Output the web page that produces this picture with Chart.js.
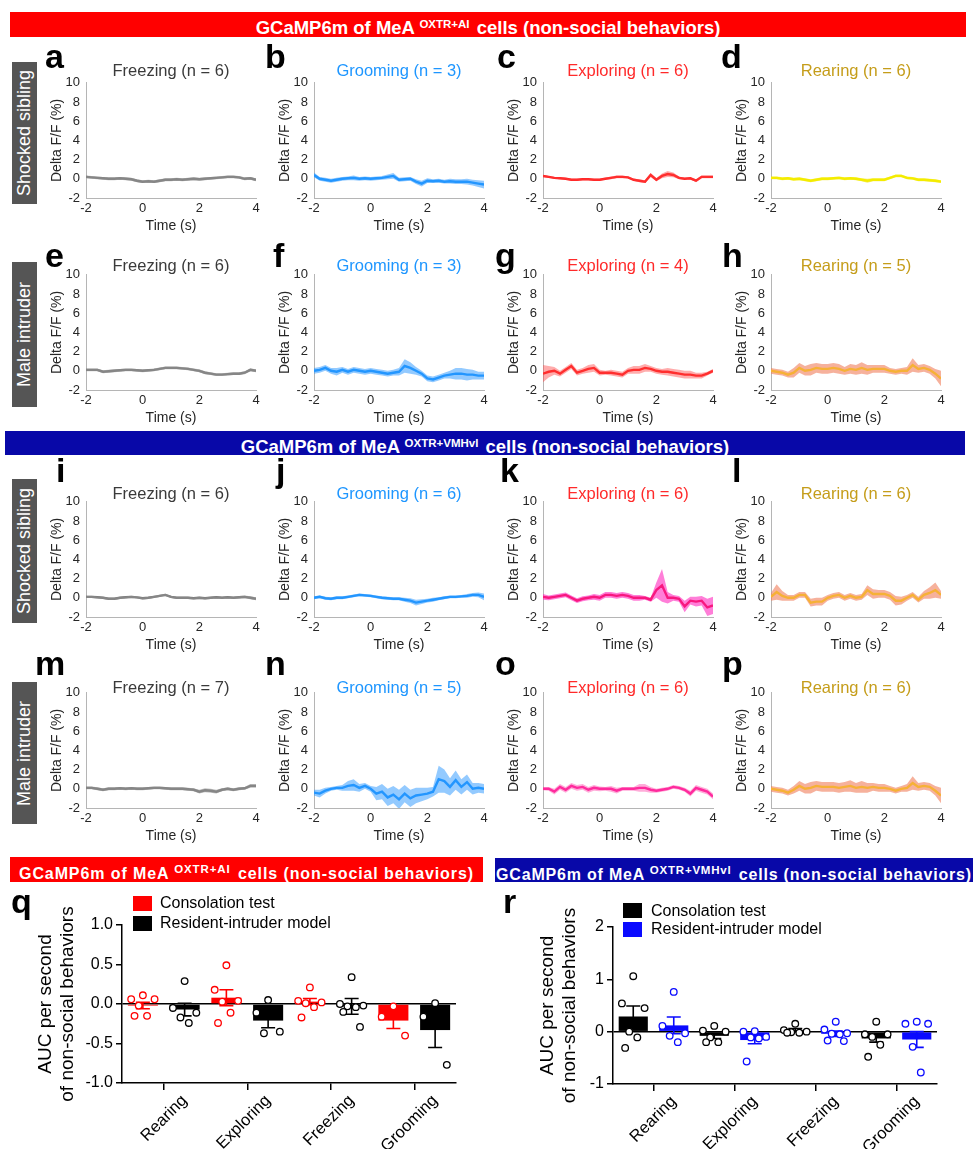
<!DOCTYPE html>
<html>
<head>
<meta charset="utf-8">
<script src="https://cdn.jsdelivr.net/npm/chart.js@4.4.0/dist/chart.umd.min.js"></script>
<style>
body{margin:0;width:973px;height:1149px;position:relative;background:#fff;font-family:"Liberation Sans",Arial,sans-serif;overflow:hidden}
.hdr{position:absolute;color:#fff;font-weight:bold;text-align:center;white-space:nowrap}
.hdr sup{font-size:11.5px;vertical-align:6px;margin-right:2px}
.side{position:absolute;left:12px;width:25px;background:#555;color:#fff;font-size:18px;writing-mode:vertical-rl;transform:rotate(180deg);text-align:center;line-height:25px;white-space:nowrap}
.lett{position:absolute;font-weight:bold;font-size:34px;line-height:34px;color:#000}
.ptitle{position:absolute;width:170px;font-size:16.5px;line-height:20px;text-align:center;white-space:nowrap}
.leg{position:absolute;font-size:16px;line-height:18px;color:#000;white-space:nowrap}
.leg i{position:absolute;left:0;width:19px;height:15px}
canvas{position:absolute}
</style>
</head>
<body>
<script>
// time axis shared by all traces (s)
const timeS = [-2,-1.8,-1.6,-1.4,-1.2,-1,-0.8,-0.6,-0.4,-0.2,0,0.2,0.4,0.6,0.8,1,1.2,1.4,1.6,1.8,2,2.2,2.4,2.6,2.8,3,3.2,3.4,3.6,3.8,4];

// mean traces and s.e.m. (Delta F/F %)
const aMean = [0.2,0.15,0.1,0.05,0,0,0.05,0,-0.05,-0.2,-0.3,-0.25,-0.3,-0.2,-0.1,-0.1,-0.05,-0.1,-0.05,0,-0.05,0,0.05,0.1,0.15,0.2,0.2,0.15,0,0.05,-0.1];
const aErr  = [0.15,0.15,0.15,0.15,0.15,0.15,0.15,0.15,0.15,0.15,0.15,0.15,0.15,0.15,0.15,0.15,0.15,0.15,0.15,0.15,0.15,0.15,0.15,0.15,0.15,0.15,0.15,0.15,0.15,0.15,0.15];
const bMean = [0.4,0,-0.1,-0.2,-0.1,0,0.05,0.1,0,0.05,0,0.05,0.1,0.2,0.3,-0.1,-0.05,0,-0.3,-0.5,-0.2,-0.25,-0.2,-0.3,-0.25,-0.3,-0.3,-0.3,-0.4,-0.5,-0.6];
const bErr  = [0.25,0.2,0.2,0.2,0.2,0.2,0.2,0.25,0.2,0.2,0.2,0.2,0.2,0.25,0.3,0.2,0.2,0.2,0.25,0.3,0.25,0.2,0.2,0.2,0.25,0.25,0.25,0.3,0.3,0.35,0.4];
const cMean = [0.3,0.2,0.1,0.05,0,-0.1,-0.1,-0.05,-0.05,-0.1,-0.1,0,0.1,0.2,0.2,0.15,-0.1,-0.2,-0.3,0.4,-0.1,0.3,0.5,0.4,0.1,0,0.05,-0.2,0.2,0.2,0.2];
const cErr  = [0.1,0.1,0.1,0.1,0.1,0.1,0.1,0.1,0.1,0.1,0.1,0.1,0.15,0.15,0.15,0.1,0.1,0.15,0.15,0.2,0.15,0.25,0.3,0.25,0.15,0.1,0.1,0.15,0.15,0.15,0.15];
const dMean = [0.1,0.1,0,0.05,-0.05,0,-0.1,-0.2,-0.1,0,0,0.05,0.1,0,0.05,0,-0.1,-0.2,-0.1,-0.1,-0.1,0.1,0.3,0.3,0.1,0.05,-0.1,-0.1,-0.15,-0.2,-0.3];
const dErr  = [0.15,0.15,0.15,0.15,0.15,0.15,0.15,0.15,0.15,0.15,0.15,0.15,0.15,0.15,0.15,0.15,0.15,0.2,0.15,0.15,0.15,0.15,0.15,0.15,0.15,0.15,0.15,0.15,0.15,0.15,0.15];
const eMean = [0.1,0.1,0.1,-0.1,-0.05,0,0.05,0.1,0.1,0.05,0,0.05,0.1,0.2,0.3,0.3,0.3,0.25,0.2,0.1,0,-0.2,-0.3,-0.4,-0.4,-0.35,-0.3,-0.3,-0.2,0.1,0];
const eErr  = [0.15,0.15,0.15,0.15,0.15,0.15,0.15,0.15,0.15,0.15,0.15,0.15,0.15,0.15,0.15,0.15,0.15,0.15,0.15,0.15,0.15,0.15,0.15,0.15,0.15,0.15,0.15,0.15,0.15,0.15,0.15];
const fMean = [0,0.1,0.3,0,-0.1,0.1,-0.1,0.1,0,-0.1,0,-0.1,-0.2,-0.3,-0.2,-0.1,0.5,0.3,0,-0.3,-0.8,-0.9,-0.7,-0.5,-0.4,-0.3,-0.3,-0.4,-0.4,-0.5,-0.5];
const fErr  = [0.3,0.3,0.3,0.3,0.4,0.3,0.3,0.3,0.3,0.3,0.3,0.3,0.3,0.3,0.3,0.4,0.7,0.6,0.4,0.3,0.3,0.3,0.3,0.3,0.4,0.6,0.6,0.6,0.5,0.4,0.4];
const gMean = [-0.3,-0.1,0,-0.3,0.1,0.5,-0.2,0,0.2,0.3,-0.2,-0.2,-0.2,-0.3,-0.4,0,0.1,0.1,0.3,0.2,0,-0.1,-0.1,-0.2,-0.3,-0.4,-0.4,-0.5,-0.5,-0.3,0];
const gErr  = [0.9,0.6,0.4,0.3,0.3,0.3,0.3,0.3,0.4,0.4,0.3,0.2,0.3,0.3,0.3,0.3,0.4,0.4,0.4,0.3,0.3,0.3,0.4,0.4,0.4,0.4,0.4,0.3,0.3,0.2,0.2];
const hMean = [0,-0.1,-0.2,-0.4,-0.2,0.3,0,0.1,0.3,0.2,0.2,0.3,0.2,0,0.2,0.1,0.3,0.1,0.2,0.2,0.2,0,-0.1,0,0,0.6,0.2,0.3,0.1,-0.3,-0.8];
const hErr  = [0.3,0.3,0.3,0.3,0.5,0.5,0.5,0.6,0.5,0.5,0.5,0.5,0.5,0.4,0.5,0.5,0.6,0.5,0.4,0.4,0.4,0.3,0.3,0.3,0.4,0.7,0.4,0.4,0.4,0.5,0.8];
const iMean = [0.1,0.1,0.05,0,-0.1,-0.1,0,0.05,0.1,0.05,-0.05,0,0.1,0.2,0.3,0.1,0,0,0,-0.05,0,-0.05,0,0.05,0,0.05,0,0.05,0.1,0,-0.1];
const iErr  = [0.12,0.12,0.12,0.12,0.12,0.12,0.12,0.12,0.12,0.12,0.12,0.12,0.12,0.12,0.12,0.12,0.12,0.12,0.12,0.12,0.12,0.12,0.12,0.12,0.12,0.12,0.12,0.15,0.15,0.15,0.15];
const jMean = [0,0.1,-0.05,-0.1,0,0,0.1,0.2,0.3,0.25,0.2,0.1,0,-0.05,-0.1,-0.1,-0.2,-0.3,-0.5,-0.4,-0.3,-0.2,-0.1,0,0.1,0.1,0.15,0.2,0.3,0.3,0.1];
const jErr  = [0.15,0.15,0.15,0.15,0.15,0.15,0.15,0.15,0.15,0.15,0.15,0.15,0.15,0.15,0.15,0.15,0.2,0.25,0.3,0.25,0.2,0.2,0.15,0.15,0.15,0.15,0.15,0.2,0.2,0.25,0.35];
const kMean = [0.1,0,0.1,0.2,0.3,0,-0.3,-0.1,0,0.1,0,0.3,0.3,0.2,0.3,0.2,0,0,0,-0.2,0.8,1.3,0,0,-0.1,-0.9,-0.3,-0.4,-0.3,-1,-0.8];
const kErr  = [0.3,0.25,0.25,0.25,0.25,0.25,0.25,0.25,0.25,0.3,0.3,0.3,0.3,0.3,0.3,0.3,0.3,0.3,0.2,0.2,0.8,1.7,0.6,0.3,0.3,0.6,0.4,0.5,0.5,0.9,0.9];
const lMean = [0.1,0.6,0.2,0,0,0.3,0.3,-0.5,-0.4,-0.4,0,0.2,0.3,0,0.2,0,0.1,0.8,0.4,0.4,0.4,0.2,-0.3,-0.3,0,0.3,-0.2,0.3,0.5,0.8,0.3];
const lErr  = [0.4,0.8,0.5,0.3,0.3,0.3,0.3,0.4,0.4,0.4,0.3,0.3,0.3,0.3,0.3,0.3,0.3,0.5,0.5,0.4,0.4,0.4,0.5,0.4,0.3,0.3,0.3,0.4,0.6,0.8,0.4];
const mMean = [0.1,0.1,0,-0.1,0,0,0.05,0,0.05,0,0,0.05,0.1,0.1,0.05,0,0,0,-0.05,-0.1,-0.3,-0.15,-0.2,-0.3,-0.1,0,-0.1,0,0.05,0.3,0.3];
const mErr  = [0.15,0.15,0.15,0.15,0.15,0.15,0.15,0.15,0.15,0.15,0.15,0.15,0.15,0.15,0.15,0.15,0.15,0.15,0.15,0.15,0.2,0.2,0.2,0.2,0.15,0.15,0.15,0.15,0.15,0.2,0.2];
const nMean = [-0.4,-0.5,-0.2,0,0.1,0.1,0.3,0.4,0.1,0.3,0,-0.5,-0.3,-0.9,-0.6,-1.1,-0.5,-1,-0.7,-0.6,-0.5,-0.3,1,0.8,0.2,0.9,0.2,0.7,0,0.1,0];
const nErr  = [0.3,0.4,0.3,0.2,0.2,0.3,0.5,0.6,0.4,0.3,0.3,0.7,0.8,0.9,0.9,1,0.9,0.9,0.8,0.7,0.6,0.5,1.4,1.2,0.9,1,0.8,0.8,0.6,0.5,0.5];
const oMean = [0,0,-0.3,0.2,-0.1,0.3,0.1,0.2,-0.1,0.1,0,0,0,-0.2,0,0,0,0.1,0.1,-0.1,-0.2,-0.1,0,0.2,0.1,-0.1,-0.5,0.1,-0.1,-0.3,-0.8];
const oErr  = [0.15,0.2,0.3,0.3,0.3,0.3,0.3,0.3,0.3,0.3,0.25,0.2,0.3,0.3,0.2,0.2,0.2,0.4,0.4,0.3,0.2,0.2,0.2,0.2,0.2,0.2,0.3,0.3,0.3,0.3,0.3];
const pMean = [0,-0.1,-0.2,-0.4,-0.1,0.3,0,0.1,0.3,0.2,0.2,0.2,0.1,0.2,0.3,0.1,0.2,0.1,0.2,0.1,0.1,0,-0.2,0,0.1,0.6,0.2,0.3,0.2,-0.2,-0.7];
const pErr  = [0.3,0.3,0.3,0.3,0.4,0.5,0.5,0.6,0.5,0.5,0.5,0.5,0.5,0.5,0.6,0.5,0.6,0.5,0.4,0.4,0.4,0.3,0.3,0.3,0.4,0.7,0.4,0.4,0.4,0.5,0.8];

// AUC bar charts
const behaviours = ['Rearing', 'Exploring', 'Freezing', 'Grooming'];
const qConsMean = [-0.02, 0.08, 0.03, -0.21];
const qConsSem  = [0.04, 0.10, 0.04, 0.10];
const qResMean  = [-0.07, -0.21, -0.03, -0.33];
const qResSem   = [0.08, 0.09, 0.10, 0.22];
const qConsPts = [[0.11,0.06,0.06,-0.02,-0.15,-0.15],[0.49,0.18,0.04,0.03,-0.11,-0.24],[0.21,0.04,0.02,0.01,-0.04,-0.17],[-0.03,-0.16,-0.40]];
const qResPts  = [[0.29,-0.05,-0.11,-0.17,-0.24],[0.05,-0.11,-0.35,-0.37],[0.34,0.0,-0.02,-0.03,-0.04,-0.10,-0.29],[0.01,-0.16,-0.77]];
const rConsMean = [0.29, -0.08, 0.03, -0.13];
const rConsSem  = [0.20, 0.05, 0.03, 0.07];
const rResMean  = [0.12, -0.16, -0.04, -0.15];
const rResSem   = [0.16, 0.07, 0.05, 0.15];
const rConsPts = [[1.06,0.54,0.45,0.0,-0.11,-0.31],[0.11,0.02,0.0,-0.11,-0.20,-0.20],[0.15,0.03,0.0,-0.01,-0.02,-0.02],[0.19,-0.05,-0.05,-0.10,-0.25,-0.48]];
const rResPts  = [[0.76,0.11,-0.03,-0.08,-0.20],[0.01,0.0,-0.10,-0.11,-0.13,-0.57],[0.19,0.04,-0.03,-0.04,-0.05,-0.17,-0.18],[0.19,0.15,0.15,-0.29,-0.78]];

Chart.defaults.font.family = '"Liberation Sans", Arial, sans-serif';
Chart.defaults.color = '#262626';

const GRAY = {line: '#6e6e6e', band: 'rgba(150,150,150,0.6)', text: '#3a3a3a'};
const BLUE = {line: '#1e96ff', band: 'rgba(40,150,255,0.5)', text: '#1e96ff'};
const RED = {line: '#ff1a1a', band: 'rgba(255,70,70,0.45)', text: '#ff2a2a'};
const YEL = {line: '#ffff00', band: 'rgba(235,220,0,0.55)', text: '#c59d1a'};
const YELS = {line: '#ffff00', band: 'rgba(240,125,90,0.6)', text: '#c59d1a'};
const PINKK = {line: '#ee0022', band: 'rgba(255,40,190,0.6)', text: '#ff2a2a'};
const PINKO = {line: '#ff1493', band: 'rgba(255,70,170,0.45)', text: '#ff2a2a'};

const panels = [
  ['a', 'Freezing (n = 6)', aMean, aErr, GRAY], ['b', 'Grooming (n = 3)', bMean, bErr, BLUE],
  ['c', 'Exploring (n = 6)', cMean, cErr, RED], ['d', 'Rearing (n = 6)', dMean, dErr, YEL],
  ['e', 'Freezing (n = 6)', eMean, eErr, GRAY], ['f', 'Grooming (n = 3)', fMean, fErr, BLUE],
  ['g', 'Exploring (n = 4)', gMean, gErr, RED], ['h', 'Rearing (n = 5)', hMean, hErr, YELS],
  ['i', 'Freezing (n = 6)', iMean, iErr, GRAY], ['j', 'Grooming (n = 6)', jMean, jErr, BLUE],
  ['k', 'Exploring (n = 6)', kMean, kErr, PINKK], ['l', 'Rearing (n = 6)', lMean, lErr, YELS],
  ['m', 'Freezing (n = 7)', mMean, mErr, GRAY], ['n', 'Grooming (n = 5)', nMean, nErr, BLUE],
  ['o', 'Exploring (n = 6)', oMean, oErr, PINKO], ['p', 'Rearing (n = 6)', pMean, pErr, YELS]
];

// layout
const colLeft = [86, 314, 543, 771];
const rowTop = [77, 269, 496, 687];
const PW = 170, PH = 121;
const titleMid = [70, 265, 493, 687];
const letterBase = [68, 267, 482, 675];
const letterX = [[45,265,497,721],[45,273,495,722],[56,276,500,732],[35,265,495,722]];

function add(tag, cls, css, html) {
  const el = document.createElement(tag);
  if (cls) el.className = cls;
  Object.assign(el.style, css);
  if (html) el.innerHTML = html;
  document.body.appendChild(el);
  return el;
}
function addCanvas(l, t, w, h) {
  const cv = add('canvas', '', {left: l + 'px', top: t + 'px'});
  cv.width = w; cv.height = h;
  return cv;
}

// headers and side labels
add('div', 'hdr', {left:'10px', top:'12px', width:'956px', height:'25px', lineHeight:'25px', background:'#ff0000', fontSize:'18.5px'},
  'GCaMP6m of MeA <sup>OXTR+AI</sup> cells (non-social behaviors)');
add('div', 'hdr', {left:'5px', top:'431px', width:'960px', height:'24px', lineHeight:'24px', background:'#0808a8', fontSize:'18.5px'},
  'GCaMP6m of MeA <sup>OXTR+VMHvl</sup> cells (non-social behaviors)');
add('div', 'hdr', {left:'10px', top:'857px', width:'473px', height:'25px', lineHeight:'25px', background:'#ff0000', fontSize:'16px', letterSpacing:'0.9px'},
  'GCaMP6m of MeA <sup>OXTR+AI</sup> cells (non-social behaviors)');
add('div', 'hdr', {left:'495px', top:'858px', width:'478px', height:'24px', lineHeight:'24px', background:'#0808a8', fontSize:'16px', letterSpacing:'0.8px'},
  'GCaMP6m of MeA <sup>OXTR+VMHvl</sup> cells (non-social behaviors)');
[[62,204,'Shocked sibling'],[262,407,'Male intruder'],[479,623,'Shocked sibling'],[682,824,'Male intruder']].forEach(s => {
  add('div', 'side', {top: s[0] + 'px', height: (s[1] - s[0]) + 'px'}, s[2]);
});

// small trace panels
panels.forEach((p, idx) => {
  const r = Math.floor(idx / 4), c = idx % 4;
  const [letter, title, mean, err, st] = p;
  const cv = addCanvas(colLeft[c] - 50, rowTop[r] - 8, 50 + PW + 8, 8 + PH + 42);
  const upper = timeS.map((t, i) => ({x: t, y: mean[i] + err[i]}));
  const lower = timeS.map((t, i) => ({x: t, y: mean[i] - err[i]}));
  const line = timeS.map((t, i) => ({x: t, y: mean[i]}));
  new Chart(cv, {
    type: 'line',
    data: {datasets: [
      {data: upper, fill: '+1', backgroundColor: st.band, borderWidth: 0, pointRadius: 0},
      {data: lower, fill: false, borderWidth: 0, pointRadius: 0},
      {data: line, fill: false, borderColor: st.line, borderWidth: 2.4, pointRadius: 0}
    ]},
    options: {
      responsive: false, animation: false, events: [],
      layout: {padding: {top: 8, right: 8, left: 0, bottom: 0}},
      plugins: {legend: {display: false}, tooltip: {enabled: false}},
      scales: {
        x: {type: 'linear', min: -2, max: 4,
            ticks: {stepSize: 2, padding: 3, font: {size: 13}, color: '#262626'},
            grid: {display: true, drawOnChartArea: false, drawTicks: false},
            border: {color: '#b5b5b5'},
            title: {display: true, text: 'Time (s)', font: {size: 14}, color: '#262626', padding: {top: 0, bottom: 5}},
            afterFit: s => { s.height = 42; }},
        y: {min: -2, max: 10,
            ticks: {stepSize: 2, padding: 6, font: {size: 13}, color: '#262626'},
            grid: {display: true, drawOnChartArea: false, drawTicks: false},
            border: {color: '#b5b5b5'},
            title: {display: true, text: 'Delta F/F (%)', font: {size: 14}, color: '#262626', padding: {top: 13, bottom: 0}},
            afterFit: s => { s.width = 50; }}
      }
    }
  });
  add('div', 'ptitle', {left: colLeft[c] + 'px', top: (titleMid[r] - 10) + 'px', color: st.text}, title);
  add('div', 'lett', {left: letterX[r][c] + 'px', top: (letterBase[r] - 29) + 'px'}, letter);
});

// AUC bar charts
const JIT = [0, -0.28, 0.28, -0.1, 0.1, -0.2, 0.2];
const errPlugin = {
  id: 'errbars',
  afterDatasetDraw(chart, args) {
    const ds = chart.data.datasets[args.index];
    if (!ds.sem) return;
    const y = chart.scales.y, g = chart.ctx;
    g.save();
    g.strokeStyle = ds.backgroundColor;
    g.lineWidth = 1.6;
    args.meta.data.forEach((bar, i) => {
      const m = ds.data[i];
      if (m === null) return;
      const yt = y.getPixelForValue(m + ds.sem[i]), yb = y.getPixelForValue(m - ds.sem[i]);
      g.beginPath();
      g.moveTo(bar.x, yt); g.lineTo(bar.x, yb);
      g.moveTo(bar.x - 7, yt); g.lineTo(bar.x + 7, yt);
      g.moveTo(bar.x - 7, yb); g.lineTo(bar.x + 7, yb);
      g.stroke();
    });
    g.restore();
  }
};

function barChart(box, series, yMin, yMax, step, fmt, yWidth, xHeight, titlePad) {
  const cv = addCanvas(box[0], box[1], box[2], box[3]);
  const labels = [];
  behaviours.forEach(b => labels.push('', b));
  const datasets = [];
  series.forEach((s, k) => {
    const d = [], e = [];
    behaviours.forEach((b, ci) => {
      if (k === 0) { d.push(s.mean[ci], null); e.push(s.sem[ci], null); }
      else { d.push(null, s.mean[ci]); e.push(null, s.sem[ci]); }
    });
    datasets.push({type: 'bar', data: d, sem: e, backgroundColor: s.color, grouped: false, order: 1,
      barPercentage: 0.72, categoryPercentage: 1, xAxisID: 'x'});
  });
  series.forEach((s, k) => {
    const pts = [];
    s.pts.forEach((arr, ci) => arr.forEach((v, i) => pts.push({x: 2 * ci + k + JIT[i % JIT.length], y: v})));
    datasets.push({type: 'scatter', data: pts, xAxisID: 'xs', order: 0, showLine: false,
      pointRadius: 3.3, pointBackgroundColor: '#fff', pointBorderColor: s.color, pointBorderWidth: 1.3});
  });
  new Chart(cv, {
    type: 'bar',
    data: {labels: labels, datasets: datasets},
    plugins: [errPlugin],
    options: {
      responsive: false, animation: false, events: [],
      layout: {padding: {top: box[4], right: box[5], left: 0, bottom: 0}},
      plugins: {legend: {display: false}, tooltip: {enabled: false}},
      scales: {
        x: {type: 'category', offset: true,
            grid: {drawOnChartArea: false, tickLength: 7, lineWidth: 1.5,
                   tickColor: c => (c.index % 2 ? '#000' : 'rgba(0,0,0,0)')},
            border: {color: '#000', width: 1.5},
            ticks: {autoSkip: false, maxRotation: 45, minRotation: 45, color: '#000', font: {size: 16.5}, padding: 1},
            afterFit: s => { s.height = xHeight; }},
        xs: {type: 'linear', axis: 'x', position: 'bottom', display: false, offset: false,
             grid: {offset: false}, min: -0.5, max: 7.5},
        y: {min: yMin, max: yMax,
            ticks: {stepSize: step, color: '#000', font: {size: 16}, padding: 3, callback: fmt},
            grid: {color: c => (c.tick && c.tick.value === 0 ? '#000' : 'rgba(0,0,0,0)'), lineWidth: 1.5,
                   tickColor: '#000', tickLength: 6},
            border: {color: '#000', width: 1.5},
            title: {display: true, text: ['AUC per second', 'of non-social behaviors'], color: '#000',
                    font: {size: 19}, padding: {top: titlePad, bottom: 0}},
            afterFit: s => { s.width = yWidth; }}
      }
    }
  });
}

barChart([0, 880, 470, 269, 45, 14],
  [{mean: qConsMean, sem: qConsSem, pts: qConsPts, color: '#ff0000'},
   {mean: qResMean, sem: qResSem, pts: qResPts, color: '#000000'}],
  -1, 1, 0.5, v => v.toFixed(1), 122, 66, 34);
barChart([490, 880, 460, 269, 47, 13],
  [{mean: rConsMean, sem: rConsSem, pts: rConsPts, color: '#000000'},
   {mean: rResMean, sem: rResSem, pts: rResPts, color: '#0a0aff'}],
  -1, 2, 1, v => String(v), 123, 65, 46);

// legends and panel letters for q, r
add('div', 'leg', {left: '133px', top: '894px', paddingLeft: '27px'}, '<i style="top:2px;background:#ff0000"></i>Consolation test');
add('div', 'leg', {left: '133px', top: '914px', paddingLeft: '27px'}, '<i style="top:2px;background:#000"></i>Resident-intruder model');
add('div', 'leg', {left: '623px', top: '902px', paddingLeft: '28px'}, '<i style="top:1px;background:#000"></i>Consolation test');
add('div', 'leg', {left: '623px', top: '920px', paddingLeft: '28px'}, '<i style="top:2px;background:#0a0aff"></i>Resident-intruder model');
add('div', 'lett', {left: '11px', top: '884px'}, 'q');
add('div', 'lett', {left: '503px', top: '884px'}, 'r');
</script>
</body>
</html>
